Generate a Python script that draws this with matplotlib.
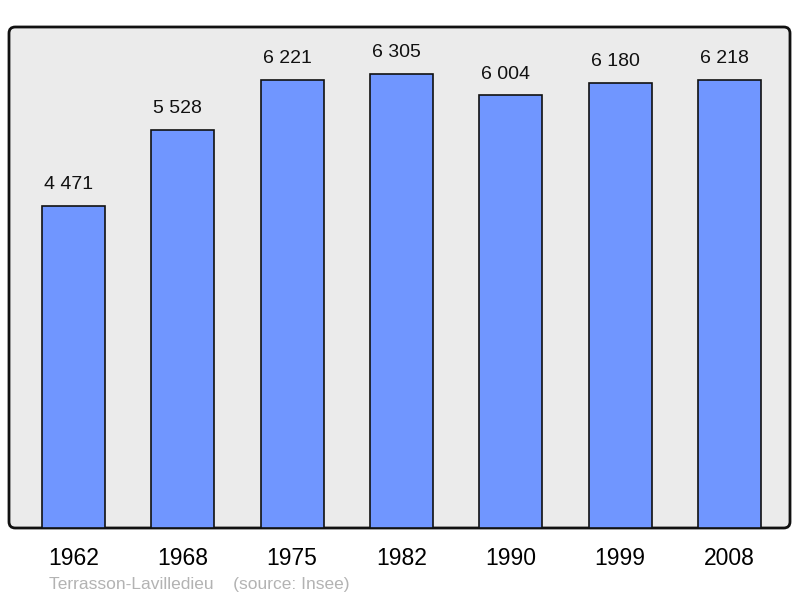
import matplotlib
matplotlib.use("Agg")
import matplotlib.pyplot as plt
from matplotlib.patches import FancyBboxPatch

years = ["1962", "1968", "1975", "1982", "1990", "1999", "2008"]
population = [4471, 5528, 6221, 6305, 6004, 6180, 6218]
value_labels = ["4 471", "5 528", "6 221", "6 305", "6 004", "6 180", "6 218"]
caption = "Terrasson-Lavilledieu    (source: Insee)"

plt.rcParams['font.family'] = ['Liberation Sans', 'DejaVu Sans']

fig = plt.figure(figsize=(8, 5.98), dpi=100)
ax = fig.add_axes([9/800, 70/598, 781/800, 501/598])
ax.set_facecolor('none')
ax.set_xlim(-0.59, 6.553)
ax.set_ylim(0, 6951)

# rounded background frame
frame = FancyBboxPatch((0, 0), 1, 1, boxstyle="round,pad=0,rounding_size=0.008",
                       transform=ax.transAxes, facecolor='#ebebeb', edgecolor='#111111',
                       linewidth=2, zorder=0, clip_on=False, mutation_aspect=781/501)
ax.add_patch(frame)

x = list(range(len(years)))
ax.bar(x, population, width=0.576, color='#7096ff', edgecolor='#111111', linewidth=1.2, zorder=2)
for xi, v, lab in zip(x, population, value_labels):
    ax.annotate(lab, (xi, v), xytext=(-3.6, 9), textcoords='offset points',
                ha='center', va='bottom', fontsize=14, color='#111111')

for s in ax.spines.values():
    s.set_visible(False)
ax.set_yticks([])
ax.set_xticks(x)
ax.set_xticklabels(years, fontsize=16.5)
ax.tick_params(axis='x', length=0, pad=14)

fig.text(49/800, 1 - 584/598, caption, fontsize=12.5, color='#b3b3b3', ha='left', va='center')

fig.savefig("out.png", dpi=100)
